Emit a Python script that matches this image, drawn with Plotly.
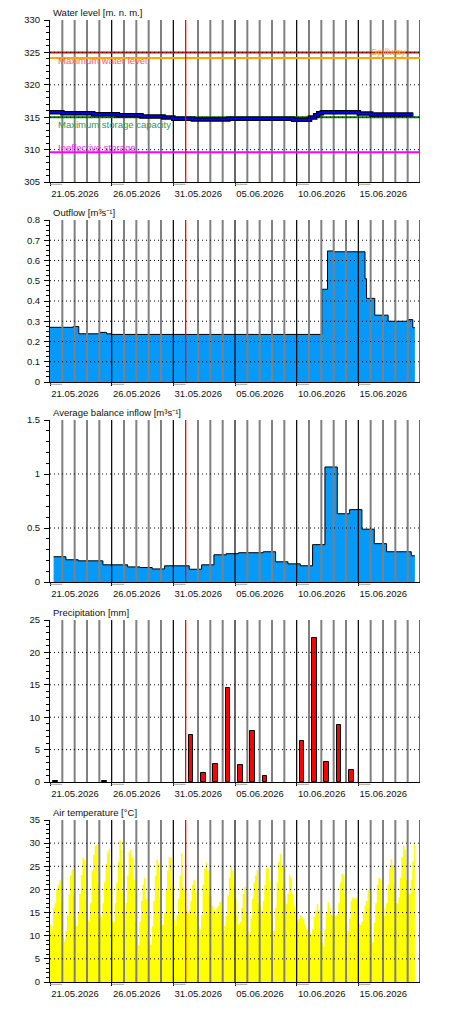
import pandas as pd
import plotly.graph_objects as go
from plotly.subplots import make_subplots

# time window of the report
start = "2026-05-21"
end = "2026-06-20"
now = "2026-06-01"
major_days = ["2026-05-21", "2026-05-26", "2026-05-31", "2026-06-05", "2026-06-10", "2026-06-15"]
major_labels = ["21.05.2026", "26.05.2026", "31.05.2026", "05.06.2026", "10.06.2026", "15.06.2026"]

# reservoir reference levels [m n. m.]
max_water_level = 325.0
spillway = 324.15
max_storage = 315.0
ineffective_storage = 309.6

# water level (step changes)
level_time = ["2026-05-21 00:00", "2026-05-22 00:00", "2026-05-24 12:00", "2026-05-26 12:00",
              "2026-05-28 10:00", "2026-05-30 05:00", "2026-05-31 00:00", "2026-06-01 14:00",
              "2026-06-04 11:00", "2026-06-09 17:00", "2026-06-11 02:00", "2026-06-11 12:00",
              "2026-06-11 18:00", "2026-06-12 01:00", "2026-06-15 01:00", "2026-06-16 01:00",
              "2026-06-19 11:00"]
level_value = [315.75, 315.60, 315.45, 315.30, 315.10, 314.95, 314.78, 314.63,
               314.78, 314.60, 314.94, 315.29, 315.62, 315.78, 315.58, 315.42, 315.42]

# outflow [m3/s]
outflow_time = ["2026-05-21 00:00", "2026-05-22 21:00", "2026-05-23 08:00", "2026-05-25 01:00",
                "2026-05-25 14:00", "2026-05-26 00:00", "2026-06-12 01:00", "2026-06-12 12:00",
                "2026-06-12 23:00", "2026-06-15 13:00", "2026-06-15 16:00", "2026-06-16 08:00",
                "2026-06-17 10:00", "2026-06-19 01:00", "2026-06-19 10:00", "2026-06-19 14:00"]
outflow_value = [0.270, 0.274, 0.238, 0.245, 0.238, 0.235, 0.458, 0.647,
                 0.643, 0.510, 0.413, 0.330, 0.300, 0.308, 0.268, 0.268]

# average balance inflow [m3/s], daily from 07:00
inflow_time = ["2026-05-21 07:00", "2026-05-22 07:00", "2026-05-23 07:00", "2026-05-25 07:00",
               "2026-05-27 07:00", "2026-05-28 07:00", "2026-05-29 07:00", "2026-05-30 07:00",
               "2026-06-01 07:00", "2026-06-02 07:00", "2026-06-03 07:00", "2026-06-04 07:00",
               "2026-06-05 07:00", "2026-06-07 07:00", "2026-06-08 07:00", "2026-06-09 07:00",
               "2026-06-10 07:00", "2026-06-11 07:00", "2026-06-12 07:00", "2026-06-13 07:00",
               "2026-06-14 07:00", "2026-06-15 07:00", "2026-06-16 07:00", "2026-06-17 07:00",
               "2026-06-19 07:00", "2026-06-19 14:00"]
inflow_value = [0.234, 0.206, 0.196, 0.159, 0.140, 0.134, 0.121, 0.150,
                0.118, 0.159, 0.252, 0.262, 0.271, 0.280, 0.187, 0.168,
                0.150, 0.346, 1.065, 0.632, 0.670, 0.489, 0.355, 0.280,
                0.243, 0.243]

# daily precipitation [mm], 21.05 - 19.06
precip_mm = [0.15, 0, 0, 0, 0.15, 0, 0, 0, 0, 0, 0, 7.2, 1.4, 2.8, 14.5,
             2.65, 7.8, 0.85, 0, 0, 6.4, 22.3, 3.1, 8.75, 1.9, 0, 0, 0, 0, 0]

# air temperature [°C], 3-hourly from 21.05 00:00
air_temp = [
    12.5, 11.5, 16.0, 17.0, 20.0, 21.0, 22.0, 17.0,
    9.6, 8.8, 11.0, 14.3, 18.8, 23.1, 24.3, 18.7,
    13.2, 12.1, 15.0, 19.0, 23.1, 26.9, 26.4, 18.0,
    13.5, 13.0, 17.0, 24.0, 27.5, 29.5, 29.7, 21.0,
    14.5, 14.0, 17.0, 21.5, 25.5, 28.0, 28.8, 20.0,
    13.0, 13.0, 17.0, 21.5, 26.0, 30.5, 28.5, 19.0,
    15.0, 17.0, 23.0, 28.0, 28.5, 27.0, 22.0, 13.0,
    10.0, 8.0, 13.0, 17.5, 21.0, 22.5, 18.0, 11.0,
    9.0, 8.0, 12.0, 17.5, 23.0, 26.4, 25.6, 18.0,
    12.5, 12.3, 15.0, 20.0, 24.1, 27.0, 26.8, 21.0,
    13.5, 12.1, 14.5, 18.0, 23.0, 27.8, 20.5, 19.6,
    15.5, 15.0, 15.5, 17.5, 21.0, 22.0, 19.5, 14.0,
    12.0, 11.4, 14.5, 21.0, 24.5, 25.8, 24.0, 18.5,
    18.5, 16.5, 15.5, 15.4, 16.0, 16.5, 17.3, 14.5,
    11.0, 12.1, 14.3, 18.7, 22.5, 24.8, 24.0, 21.0,
    18.0, 14.5, 12.5, 13.0, 16.0, 19.0, 20.5, 15.0,
    11.0, 10.3, 13.6, 18.0, 21.5, 23.0, 24.2, 17.0,
    16.0, 15.4, 17.5, 21.0, 24.5, 24.7, 22.0, 15.0,
    11.0, 11.0, 16.0, 21.5, 26.0, 27.7, 25.0, 20.5,
    18.5, 16.9, 19.0, 23.0, 22.5, 19.0, 16.5, 15.0,
    13.2, 13.6, 14.5, 14.0, 13.6, 12.5, 11.4, 11.0,
    10.5, 10.3, 11.4, 14.0, 15.4, 16.9, 15.5, 11.0,
    8.5, 7.6, 11.4, 15.0, 17.2, 16.0, 14.5, 14.3,
    14.3, 14.3, 14.7, 17.0, 21.5, 23.4, 23.2, 19.0,
    12.5, 11.0, 13.6, 17.5, 18.3, 18.0, 18.2, 17.6,
    12.5, 12.3, 13.0, 15.0, 16.5, 17.5, 19.8, 16.0,
    10.0, 8.5, 12.8, 17.0, 21.0, 22.5, 22.2, 18.7,
    16.0, 14.3, 17.0, 21.0, 24.5, 26.5, 25.3, 21.0,
    17.0, 16.9, 18.3, 22.5, 27.0, 29.5, 28.5, 22.0,
    18.7, 19.0, 22.0, 26.0, 30.0,
]
temp_end = "2026-06-19 14:00"

titles = ["Water level [m. n. m.]", "Outflow [m³s⁻¹]", "Average balance inflow [m³s⁻¹]",
          "Precipitation [mm]", "Air temperature [°C]"]

FONT = "Liberation Sans, Arial, sans-serif"
DAY_MS = 86400000

fig = make_subplots(rows=5, cols=1, vertical_spacing=38 / 962)

# --- water level panel
for val, col in [(max_water_level, "#FF0000"), (spillway, "#FFA500"),
                 (max_storage, "#008000"), (ineffective_storage, "#FF00FF")]:
    fig.add_trace(go.Scatter(x=[start, end], y=[val, val], mode="lines",
                             line=dict(color=col, width=2)), row=1, col=1)
fig.add_trace(go.Scatter(x=level_time, y=level_value, mode="lines", line_shape="hv",
                         line=dict(color="black", width=4.5)), row=1, col=1)
fig.add_trace(go.Scatter(x=level_time, y=level_value, mode="lines", line_shape="hv",
                         line=dict(color="#0000FF", width=2)), row=1, col=1)

# --- outflow / inflow
fig.add_trace(go.Scatter(x=outflow_time, y=outflow_value, mode="lines", line_shape="hv",
                         fill="tozeroy", fillcolor="#0599FA",
                         line=dict(color="black", width=1)), row=2, col=1)
fig.add_trace(go.Scatter(x=inflow_time, y=inflow_value, mode="lines", line_shape="hv",
                         fill="tozeroy", fillcolor="#0599FA",
                         line=dict(color="black", width=1)), row=3, col=1)

# --- precipitation (dry days left empty)
precip_days = pd.date_range(start, periods=len(precip_mm), freq="D") + pd.Timedelta(hours=10, minutes=30)
fig.add_trace(go.Bar(x=precip_days, y=[v if v > 0 else None for v in precip_mm],
                     width=0.38 * DAY_MS,
                     marker=dict(color="#FF0000", line=dict(color="black", width=1))),
              row=4, col=1)

# --- air temperature
temp_time = list(pd.date_range(start, periods=len(air_temp), freq="3h")) + [pd.Timestamp(temp_end)]
fig.add_trace(go.Scatter(x=temp_time, y=air_temp + [air_temp[-1]], mode="lines", line_shape="hv",
                         fill="tozeroy", fillcolor="#FFFF00", line=dict(width=0)),
              row=5, col=1)

# axes
y_setup = [
    dict(range=[305, 330], dtick=5, tick0=305, minor=1, grid=[310, 315, 320, 325]),
    dict(range=[0, 0.8], dtick=0.1, tick0=0, minor=0.025, grid=[0.1, 0.2, 0.3, 0.4, 0.5, 0.6, 0.7]),
    dict(range=[0, 1.5], dtick=0.5, tick0=0, minor=0.1, grid=[0.5, 1.0]),
    dict(range=[0, 25], dtick=5, tick0=0, minor=1, grid=[5, 10, 15, 20]),
    dict(range=[0, 35], dtick=5, tick0=0, minor=1, grid=[5, 10, 15, 20, 25, 30]),
]

days = pd.date_range(start, end, freq="D")
majors = set(pd.to_datetime(major_days))
now_ts = pd.Timestamp(now)

for i in range(1, 6):
    s = y_setup[i - 1]
    fig.update_xaxes(row=i, col=1, type="date", range=[start, end],
                     tickvals=major_days, ticktext=major_labels,
                     ticks="outside", ticklen=3, tickcolor="black",
                     ticklabelshift=25, showgrid=False, zeroline=False,
                     showline=True, linecolor="black", linewidth=1, automargin=False,
                     tickfont=dict(family=FONT, size=9.5, color="#111"))
    fig.update_yaxes(row=i, col=1, range=s["range"], dtick=s["dtick"], tick0=s["tick0"],
                     ticks="outside", ticklen=5, tickcolor="black",
                     minor=dict(dtick=s["minor"], ticks="outside", ticklen=3,
                                tickcolor="black", showgrid=False),
                     showgrid=False, zeroline=False, showline=True, automargin=False,
                     linecolor="black", linewidth=1, ticklabelstandoff=2,
                     tickfont=dict(family=FONT, size=9.5, color="#111"))

    xr = "x" if i == 1 else f"x{i}"
    yr = "y" if i == 1 else f"y{i}"
    vlayer = "below" if i == 1 else "above"
    for d in days[1:-1]:
        if d in majors or d == now_ts:
            continue
        fig.add_shape(type="line", xref=xr, yref=f"{yr} domain", x0=d, x1=d, y0=0, y1=1,
                      line=dict(color="#808080", width=2), layer=vlayer)
    for d in major_days[1:] + [end]:
        fig.add_shape(type="line", xref=xr, yref=f"{yr} domain", x0=d, x1=d, y0=0, y1=1,
                      line=dict(color="black", width=1.2), layer=vlayer)
    for gy in s["grid"]:
        fig.add_shape(type="line", xref=f"{xr} domain", yref=yr, x0=0, x1=1, y0=gy, y1=gy,
                      line=dict(color="black", width=1, dash="1px,3px"), layer="above")
    fig.add_shape(type="line", xref=xr, yref=f"{yr} domain", x0=now, x1=now, y0=0, y1=1,
                  line=dict(color="#FF0000", width=1.3), layer="above")
    for d in major_days:
        d1 = pd.Timestamp(d) + pd.Timedelta(days=1)
        fig.add_shape(type="line", xref=xr, yref=f"{yr} domain", x0=d, x1=d1,
                      y0=-0.014, y1=-0.014, line=dict(color="#A0A0A0", width=1), layer="above")
    fig.add_annotation(text=titles[i - 1], xref=f"{xr} domain", yref=f"{yr} domain",
                       x=0.002, y=1, xanchor="left", yanchor="middle", yshift=7.5,
                       showarrow=False, font=dict(family=FONT, size=9.5, color="#111"))

# reference level labels
label_font = dict(family=FONT, size=9.5)
fig.add_annotation(text="Maximum water level", xref="x domain", yref="y", x=0.016, y=max_water_level,
                   xanchor="left", yanchor="middle", yshift=-8, showarrow=False,
                   font=dict(label_font, color="#FF5A5A"))
fig.add_annotation(text="Spillway", xref="x domain", yref="y", x=0.968, y=spillway,
                   xanchor="right", yanchor="middle", yshift=6, showarrow=False,
                   font=dict(label_font, color="#FFAA33"))
fig.add_annotation(text="Maximum storage capacity", xref="x domain", yref="y", x=0.016, y=max_storage,
                   xanchor="left", yanchor="middle", yshift=-7, showarrow=False,
                   font=dict(label_font, color="#22A050"))
fig.add_annotation(text="Ineffective storage", xref="x domain", yref="y", x=0.016, y=ineffective_storage,
                   xanchor="left", yanchor="middle", yshift=5, showarrow=False,
                   font=dict(label_font, color="#E030E0"))

# the page body keeps its default 8px margin, so the figure is 8px smaller each way
fig.update_layout(width=442, height=1002, showlegend=False,
                  margin=dict(l=42, r=30, t=12, b=28, autoexpand=False),
                  paper_bgcolor="white", plot_bgcolor="white",
                  bargap=0, font=dict(family=FONT, size=9.5, color="#111"))

fig.write_html("out.html")
